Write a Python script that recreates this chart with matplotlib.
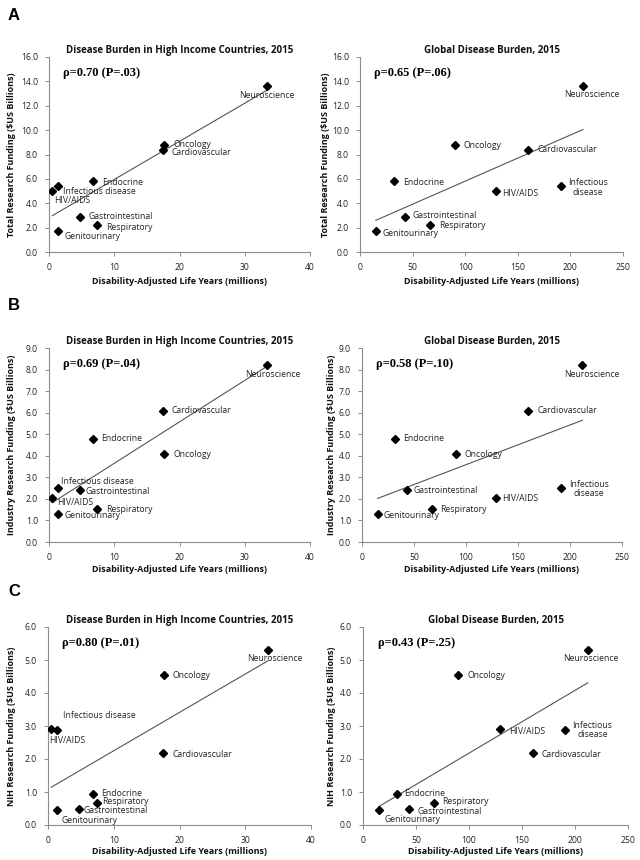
import numpy as np
import matplotlib
matplotlib.use("Agg")
import matplotlib.pyplot as plt

# ---------------- data ----------------
categories = ["Neuroscience", "Oncology", "Cardiovascular", "Endocrine",
              "Infectious disease", "HIV/AIDS", "Gastrointestinal",
              "Respiratory", "Genitourinary"]
daly_high_income = [33.4, 17.7, 17.5, 6.8, 1.4, 0.5, 4.7, 7.4, 1.4]
daly_global = [212, 90, 160, 32, 191, 129, 43, 67, 15]
total_funding = [13.6, 8.8, 8.4, 5.8, 5.4, 5.0, 2.9, 2.2, 1.7]
industry_funding = [8.2, 4.1, 6.1, 4.8, 2.5, 2.05, 2.4, 1.55, 1.3]
nih_funding = [5.3, 4.55, 2.17, 0.93, 2.88, 2.92, 0.47, 0.68, 0.44]

rho_labels = {
    ("A", "hi"): "ρ=0.70 (P=.03)", ("A", "gl"): "ρ=0.65 (P=.06)",
    ("B", "hi"): "ρ=0.69 (P=.04)", ("B", "gl"): "ρ=0.58 (P=.10)",
    ("C", "hi"): "ρ=0.80 (P=.01)", ("C", "gl"): "ρ=0.43 (P=.25)",
}
ylabels = {"A": "Total Research Funding ($US Billions)",
           "B": "Industry Research Funding ($US Billions)",
           "C": "NIH Research Funding ($US Billions)"}
titles = {"hi": "Disease Burden in High Income Countries, 2015",
          "gl": "Global Disease Burden, 2015"}
xlabel = "Disability-Adjusted Life Years (millions)"

# ---------------- label placement (offset pixels, ha) ----------------
L = "left"; C = "center"
offsets = {
    ("A", "hi"): [(0, -9, C), (9, 0, L), (8, -3, L), (9, -1, L), (5, -5, L),
                  (2, -9, L), (9, 0, L), (9, -2, L), (6, -5, L)],
    ("A", "gl"): [(9, -8, C), (9, -1, L), (9, 0, L), (9, -1, L), (27, -1, C),
                  (6, -2, L), (7, 1, L), (9, 0, L), (7, -2, L)],
    ("B", "hi"): [(6, -9, C), (9, -1, L), (8, 0, L), (8, 0, L), (3, 7, L),
                  (5, -5, L), (6, -1, L), (9, -1, L), (6, -2, L)],
    ("B", "gl"): [(9, -9, C), (9, -1, L), (9, 0, L), (8, 0, L), (28, -1, C),
                  (6, -1, L), (7, 0, L), (8, -1, L), (6, -2, L)],
    ("C", "hi"): [(7, -8, C), (8, -1, L), (9, -1, L), (8, 1, L), (6, 14, L),
                  (-2, -12, L), (5, -1, L), (5, 1, L), (4, -10, L)],
    ("C", "gl"): [(3, -8, C), (9, -1, L), (9, -1, L), (7, 1, L), (27, 0, C),
                  (9, -3, L), (9, -2, L), (8, 1, L), (6, -9, L)],
}

# axes rectangles in pixels: (left, top, right, bottom)
rects = {
    ("A", "hi"): (49, 57, 310, 252), ("A", "gl"): (360, 57, 623, 252),
    ("B", "hi"): (49, 348, 310, 542), ("B", "gl"): (362, 348, 622, 542),
    ("C", "hi"): (48, 627, 311, 825), ("C", "gl"): (363, 627, 628, 825),
}
ylab_x = {("A", "hi"): 12, ("A", "gl"): 325, ("B", "hi"): 12,
          ("B", "gl"): 332, ("C", "hi"): 12, ("C", "gl"): 332}
xlab_gap = {"A": 30, "B": 28, "C": 27}
ylims = {"A": (0, 16, 2), "B": (0, 9, 1), "C": (0, 6, 1)}
yvals = {"A": total_funding, "B": industry_funding, "C": nih_funding}
xvals = {"hi": daly_high_income, "gl": daly_global}
xlims = {"hi": (0, 40, 10), "gl": (0, 250, 50)}
letter_y = {"A": 15, "B": 306, "C": 592}

W, H = 640, 860
fig = plt.figure(figsize=(W / 100, H / 100), dpi=100)
sans = ["Open Sans", "DejaVu Sans"]
lab_font = dict(family=sans, fontsize=6.2, color="#222222")

for panel in ["A", "B", "C"]:
    fig.text(8 / W, 1 - letter_y[panel] / H, panel, fontsize=12,
             fontweight="bold", family=["Liberation Sans"], va="center")
    for side in ["hi", "gl"]:
        l, t, r, b = rects[(panel, side)]
        ax = fig.add_axes([l / W, 1 - b / H, (r - l) / W, (b - t) / H])
        x = np.array(xvals[side], float)
        y = np.array(yvals[panel], float)
        ax.plot(x, y, linestyle="none", marker="D", markersize=4.4,
                color="black", zorder=3)
        k, c0 = np.polyfit(x, y, 1)
        xs = np.array([x.min(), x.max()])
        ax.plot(xs, k * xs + c0, color="#555555", linewidth=0.8, zorder=2)
        for i, name in enumerate(categories):
            dx, dy, ha = offsets[(panel, side)][i]
            txt = name
            if side == "gl" and name == "Infectious disease":
                txt = "Infectious\ndisease"
            ax.annotate(txt, (x[i], y[i]), xytext=(dx, dy),
                        textcoords="offset pixels", ha=ha, va="center",
                        multialignment="center", linespacing=1.1,
                        **lab_font, zorder=4)
        y0, y1, ys = ylims[panel]
        x0, x1, xst = xlims[side]
        ax.set_ylim(y0, y1)
        ax.set_xlim(x0, x1)
        ax.set_yticks(np.arange(y0, y1 + 0.001, ys))
        ax.set_yticklabels([f"{v:.1f}" for v in np.arange(y0, y1 + 0.001, ys)])
        ax.set_xticks(np.arange(x0, x1 + 0.001, xst))
        ax.set_xticklabels([f"{int(v)}" for v in np.arange(x0, x1 + 0.001, xst)])
        for s in ["top", "right"]:
            ax.spines[s].set_visible(False)
        for s in ["left", "bottom"]:
            ax.spines[s].set_color("#8c8c8c")
            ax.spines[s].set_linewidth(0.8)
        ax.tick_params(direction="out", length=3, width=0.7, color="#8c8c8c",
                       labelsize=6.2, labelcolor="#222222", pad=5)
        for lbl in ax.get_xticklabels() + ax.get_yticklabels():
            lbl.set_family(sans)
        ax.set_title(titles[side], fontsize=7, fontweight="bold", family=sans,
                     pad=3, color="#111111")
        ax.set_xlabel(xlabel, fontsize=6.5, fontweight="bold", family=sans,
                      color="#111111", va="center")
        ax.xaxis.set_label_coords(0.5, -xlab_gap[panel] / (b - t))
        ax.set_ylabel(ylabels[panel], fontsize=6.5, fontweight="bold",
                      family=sans, color="#111111", va="center")
        ax.yaxis.set_label_coords((ylab_x[(panel, side)] - l) / (r - l), 0.5)
        ax.text(0.055, 0.92, rho_labels[(panel, side)], transform=ax.transAxes,
                fontsize=9, fontweight="bold", family=["Liberation Serif"],
                va="center", ha="left")

fig.savefig("out.png", dpi=100)
